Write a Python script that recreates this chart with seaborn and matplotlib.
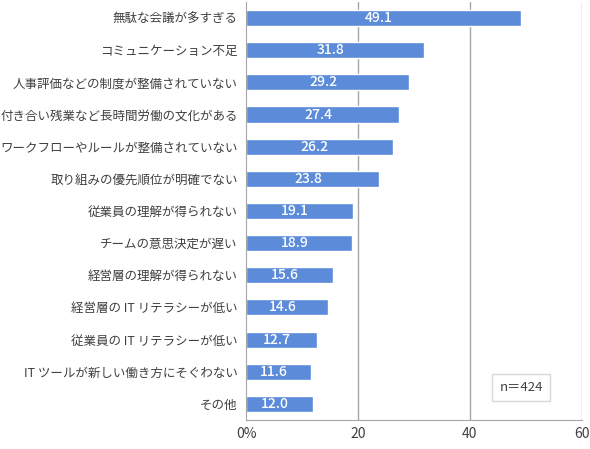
import seaborn as sns
import matplotlib.pyplot as plt
import pandas as pd

categories = [
    "無駄な会議が多すぎる",
    "コミュニケーション不足",
    "人事評価などの制度が整備されていない",
    "付き合い残業など長時間労働の文化がある",
    "ワークフローやルールが整備されていない",
    "取り組みの優先順位が明確でない",
    "従業員の理解が得られない",
    "チームの意思決定が遅い",
    "経営層の理解が得られない",
    "経営層の IT リテラシーが低い",
    "従業員の IT リテラシーが低い",
    "IT ツールが新しい働き方にそぐわない",
    "その他",
]
values = [49.1, 31.8, 29.2, 27.4, 26.2, 23.8, 19.1, 18.9, 15.6, 14.6, 12.7, 11.6, 12.0]
xticks = [0, 20, 40, 60]
xtick_labels = ["0%", "20", "40", "60"]
note = "n＝424"

sns.set_style("white")
plt.rcParams['font.family'] = ['Noto Sans CJK JP', 'DejaVu Sans']

df = pd.DataFrame({"cat": categories, "val": values})

fig = plt.figure(figsize=(5.9, 4.49), dpi=100)
ax = fig.add_axes([0.417, 0.0646, 0.569, 0.931])

sns.barplot(data=df, x="val", y="cat", color="#5B8BD9", saturation=1,
            width=0.5, ax=ax, zorder=3)

for i, v in enumerate(values):
    ax.text(v / 2 - 0.8, i, f"{v:.1f}", color="white", ha="center", va="center",
            fontsize=10, fontweight="medium", zorder=4)

ax.set_xlim(0, 60)
ax.set_ylim(len(categories) - 0.5, -0.5)
ax.set_xticks(xticks)
ax.set_xticklabels(xtick_labels)
ax.set_xlabel("")
ax.set_ylabel("")
for x in xticks[1:]:
    ax.axvline(x, color="#A6A6A6", lw=1, zorder=1)

for s in ["top", "right"]:
    ax.spines[s].set_visible(False)
ax.spines["left"].set_color("#A6A6A6")
ax.spines["bottom"].set_color("#A6A6A6")
ax.spines["left"].set_zorder(5)
ax.tick_params(axis="y", length=0, labelsize=9, colors="#404040", pad=6)
ax.tick_params(axis="x", length=0, labelsize=10, colors="#404040", pad=5)

ax.text(0.82, 0.078, note, transform=ax.transAxes, ha="center", va="center",
        fontsize=9.5, color="#404040",
        bbox=dict(boxstyle="square,pad=0.55", fc="white", ec="#D9D9D9", lw=1),
        zorder=6)

plt.savefig("out.png", dpi=100)
